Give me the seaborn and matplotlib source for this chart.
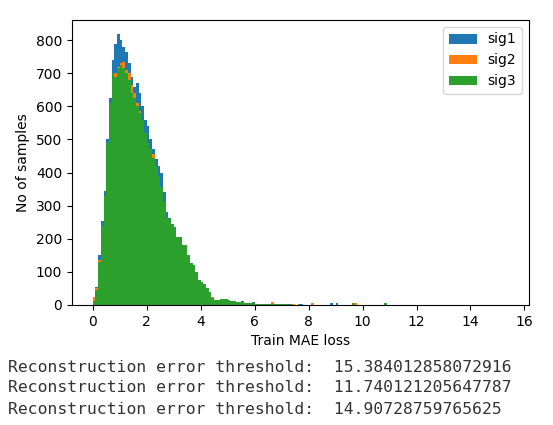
import numpy as np
import pandas as pd
import matplotlib
matplotlib.use("Agg")
import matplotlib.pyplot as plt
import seaborn as sns

# histogram counts, bins of width 0.1 from 0 to 15.4
labels = ["sig1", "sig2", "sig3"]

sig1_body = [15, 55, 150, 255, 345, 500, 625, 740, 790, 820,
             800, 780, 765, 730, 690, 660, 670, 640, 600, 560,
             540, 500, 470, 440, 420, 400, 340, 280, 262, 240,
             230, 200, 200, 175, 175, 145, 125, 118, 98, 74,
             66, 60, 50, 36, 22, 16, 14, 16, 17, 16,
             13, 12, 11, 10, 9, 12, 7, 6, 5, 8]
sig2_body = [25, 50, 135, 240, 330, 490, 610, 690, 700, 720,
             730, 735, 710, 700, 665, 640, 610, 585, 560, 520,
             490, 470, 455, 420, 390, 355, 310, 265, 258, 243,
             232, 203, 203, 178, 178, 148, 126, 119, 99, 74,
             67, 61, 51, 37, 24, 15, 14, 16, 17, 16,
             13, 12, 11, 10, 9, 8, 7, 6, 5, 5]
sig3_body = [12, 45, 130, 240, 330, 490, 610, 700, 690, 715,
             725, 715, 700, 680, 640, 625, 600, 580, 560, 520,
             490, 470, 445, 420, 390, 355, 310, 265, 260, 245,
             235, 205, 205, 180, 180, 150, 128, 120, 100, 75,
             68, 62, 52, 38, 22, 16, 15, 17, 18, 17,
             14, 13, 12, 10, 9, 8, 7, 6, 5, 5]

sig1_tail = [4, 3, 4, 3, 2, 3, 2, 2, 2, 2,
             2, 1, 2, 2, 1, 1, 1, 2, 1, 1,
             1, 1, 0, 1, 0, 0, 0, 1, 5, 0,
             5, 0, 0, 0, 0, 0, 0, 0, 0, 0] + [0] * 53 + [1]
sig2_tail = [3, 3, 3, 2, 2, 2, 10, 2, 2, 2,
             2, 1, 1, 1, 2, 1, 1, 1, 0, 1,
             0, 5, 0, 0, 0, 0, 0, 0, 0, 0,
             0, 0, 0, 0, 0, 0, 0, 5, 0, 0] + [0] * 17 + [1] + [0] * 36
sig3_tail = [4, 4, 3, 3, 3, 2, 2, 3, 2, 2,
             2, 2, 1, 2, 1, 1, 2, 1, 1, 1,
             1, 0, 1, 0, 0, 0, 0, 1, 0, 0,
             0, 0, 0, 0, 0, 0, 5, 0, 0, 0,
             0, 0, 0, 0, 0, 0, 0, 0, 6, 0] + [0] * 44

thresholds = ["15.384012858072916", "11.740121205647787", "14.90728759765625"]

n_bins = 154
centers = (np.arange(n_bins) + 0.5) * 0.1
counts = [sig1_body + sig1_tail, sig2_body + sig2_tail, sig3_body + sig3_tail]
colors = ["#1f77b4", "#ff7f0e", "#2ca02c"]

fig = plt.figure(figsize=(5.53, 4.25), dpi=100)
ax = fig.add_axes([72 / 553, 120 / 425, 457 / 553, 285 / 425])

for lab, cnt, col in zip(labels, counts, colors):
    df = pd.DataFrame({"loss": centers, "n": np.array(cnt, dtype=float)})
    sns.histplot(data=df, x="loss", weights="n", bins=n_bins, binrange=(0, 15.4),
                 color=col, alpha=1, linewidth=0, label=lab, ax=ax)

ax.set_xlim(-0.77, 16.17)
ax.set_ylim(0, 861)
ax.set_xticks(np.arange(0, 17, 2))
ax.set_yticks(np.arange(0, 801, 100))
ax.set_xlabel("Train MAE loss")
ax.set_ylabel("No of samples")
ax.legend(loc="upper right")

# printed notebook output under the figure
for i, t in enumerate(thresholds):
    fig.text(8 / 553, 1 - (367 + 21 * i) / 425,
             "Reconstruction error threshold:  " + t,
             family="DejaVu Sans Mono", fontsize=11.8, va="center", color="#333333")

fig.savefig("out.png", dpi=100)
